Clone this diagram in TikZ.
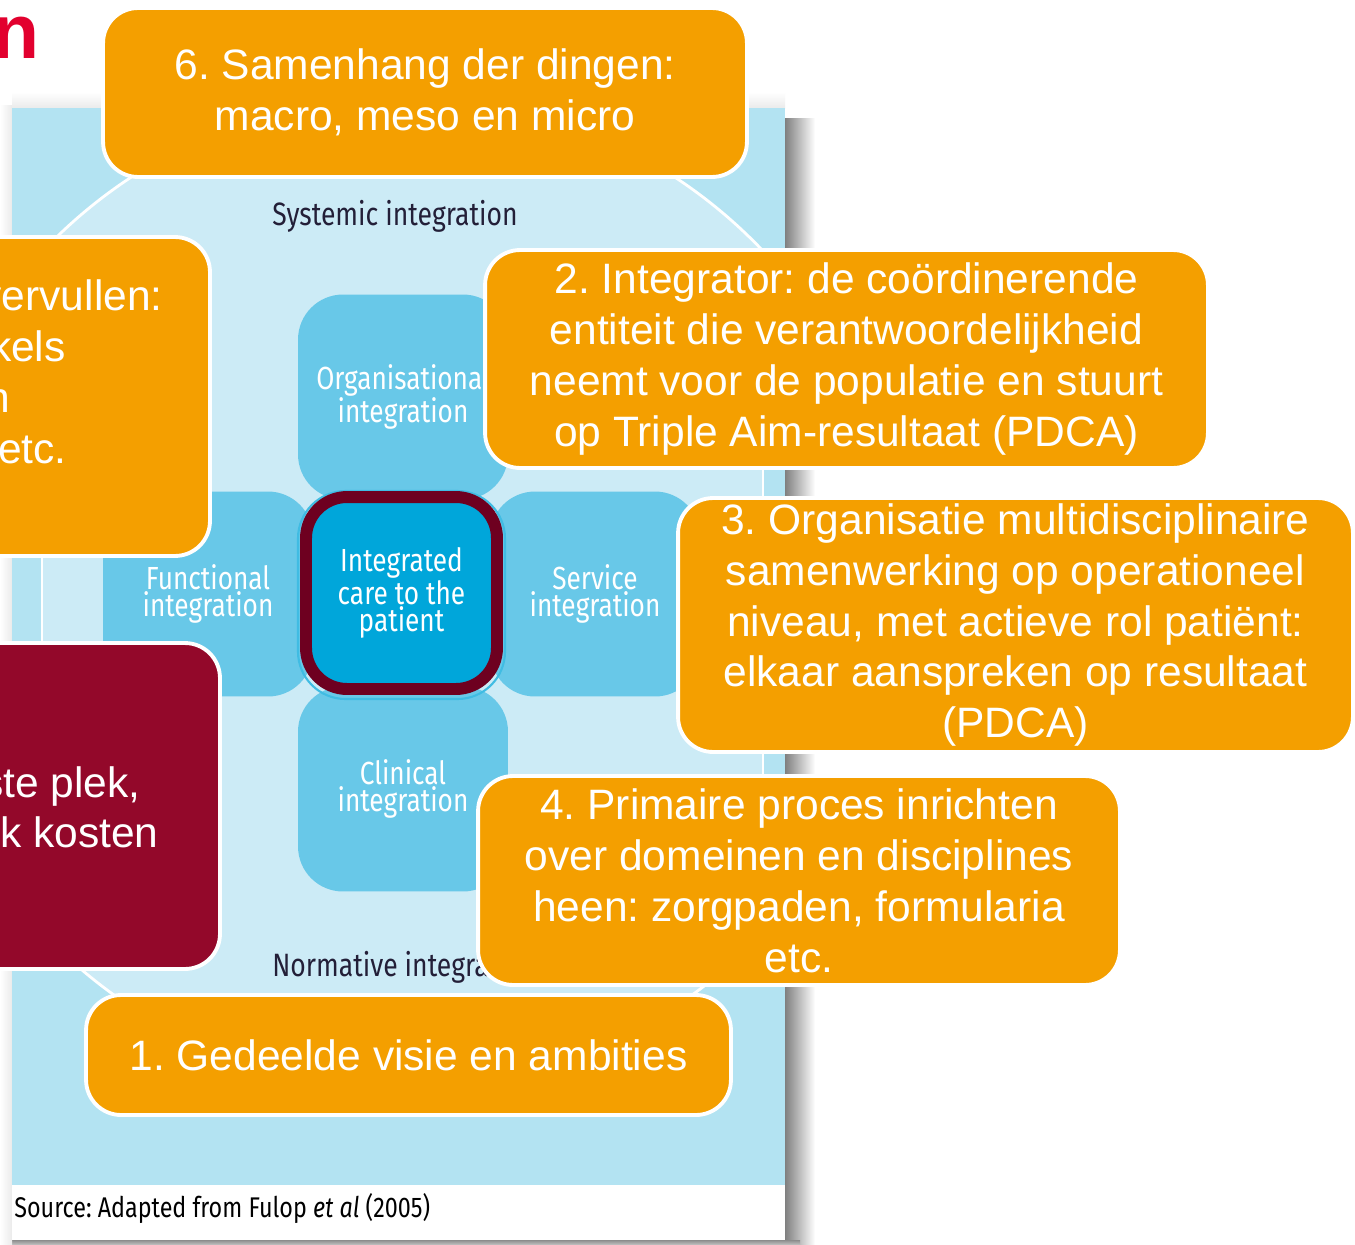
\documentclass[tikz,border=0pt]{standalone}
\usepackage{fontspec}
\setmainfont{Liberation Sans}
\newfontfamily\labelfont[FakeStretch=0.82]{Fira Sans}
\usetikzlibrary{positioning}

\definecolor{boxorange}{RGB}{244,159,0}
\definecolor{boxred}{RGB}{147,8,42}
\definecolor{titlered}{RGB}{226,0,46}
\definecolor{panelblue}{RGB}{179,227,242}
\definecolor{shapeblue}{RGB}{204,235,246}
\definecolor{blockblue}{RGB}{104,200,232}
\definecolor{careblue}{RGB}{0,166,218}
\definecolor{careborder}{RGB}{110,0,32}
\definecolor{labelink}{RGB}{35,31,56}

\tikzset{
  note/.style={draw=white, line width=2.2pt, rounded corners=0.7cm, text=white,
    align=center, inner sep=0pt, font=\fontsize{24.2}{29}\selectfont},
  notetext/.style={text=white, inner sep=0pt, font=\fontsize{24.2}{29}\selectfont},
  block/.style={fill=blockblue, rounded corners=0.9cm, text=white, align=center,
    font=\labelfont\fontsize{18.2}{15.4}\selectfont},
  textlabel/.style={text=labelink, inner sep=0pt, font=\labelfont\fontsize{18.4}{15.4}\selectfont},
}

\begin{document}
\frenchspacing
\begin{tikzpicture}[x=0.02cm, y=-0.02cm]
  \fill[white] (0,0) rectangle (1355,1244);
  \useasboundingbox (0,0) rectangle (1355,1244);

  % frame with its shadow
  \shade[left color=black!50, right color=white] (785,118) rectangle (815,1244);
  \shade[top color=black!45, bottom color=white] (12,1240) rectangle (800,1250);
  \shade[left color=white, right color=black!8] (0,105) rectangle (12,1244);
  \shade[top color=white, bottom color=black!8] (12,92) rectangle (785,108);
  \fill[panelblue] (12,108) rectangle (785,1185);
  \fill[white] (12,1185) rectangle (785,1240);

  % round field cut off at both sides
  \begin{scope}
    \clip (403,592) circle[radius=9.92cm];
    \fill[shapeblue] (42,108) rectangle (763,1120);
    \draw[white, line width=1.6pt] (42,108) -- (42,1120) (763,108) -- (763,1120);
  \end{scope}
  \begin{scope}
    \clip (42,108) rectangle (763,1120);
    \draw[white, line width=1.6pt] (403,592) circle[radius=9.92cm];
  \end{scope}

  \node[textlabel] (systemic) at (395,216) {Systemic integration};
  \node[textlabel, anchor=west] (normative) at (272,967) {Normative integration};

  \begin{scope}[every node/.style={block, minimum width=4.2cm, minimum height=4.1cm}]
    \node (organisational) at (403,397) {Organisational\\integration};
    \node (functional) at (208,594) {Functional\\integration};
    \node (service) at (595,594) {Service\\integration};
    \node (clinical) at (403,789) {Clinical\\integration};
  \end{scope}
  \draw[careblue!75, line width=1.2pt, rounded corners=0.95cm] (298,491) rectangle (505,699);
  \node[block, fill=careblue, draw=careborder, line width=6.8pt, rounded corners=0.82cm,
    minimum width=3.82cm, minimum height=3.84cm] (care) at (401.5,593)
    {Integrated\\care to the\\patient};

  % notes on top
  \begin{scope}[every node/.style={note, fill=boxorange}]
    \node[minimum width=12.88cm, minimum height=3.38cm] (samenhang) at (425,92.5)
      {6. Samenhang der dingen:\\macro, meso en micro};
    \node[minimum width=5.4cm, minimum height=6.38cm] (rollen) at (75,396.5) {};
    \node[minimum width=14.46cm, minimum height=4.36cm] (integrator) at (846.5,359)
      {2. Integrator: de coördinerende\\entiteit die verantwoordelijkheid\\neemt voor de populatie en stuurt\\op Triple Aim-resultaat (PDCA)};
    \node[minimum width=13.5cm, minimum height=5.08cm] (organisatie) at (1015.5,625)
      {3. Organisatie multidisciplinaire\\samenwerking op operationeel\\niveau, met actieve rol patiënt:\\elkaar aanspreken op resultaat\\(PDCA)};
    \node[minimum width=12.84cm, minimum height=4.18cm] (proces) at (799,880.5)
      {4. Primaire proces inrichten\\over domeinen en disciplines\\heen: zorgpaden, formularia\\etc.};
    \node[minimum width=12.9cm, minimum height=2.4cm] (visie) at (408.5,1055)
      {1. Gedeelde visie en ambities};
    \node[fill=boxred, minimum width=5.6cm, minimum height=6.52cm] (waarde) at (80,806) {};
  \end{scope}

  \begin{scope}[every node/.style={notetext, anchor=base east}]
    \node (rollen1) at (163,310) {vervullen:};
    \node (rollen2) at (66,361) {kels};
    \node (rollen3) at (10,412) {n};
    \node (rollen4) at (67,463) {etc.};
    \node (waarde1) at (141,797) {ste plek,};
    \node (waarde2) at (159,847) {k kosten};
  \end{scope}

  \node[text=titlered, anchor=base east, inner sep=0pt,
    font=\bfseries\fontsize{43.8}{50}\selectfont] (title) at (40,58) {n};
  \node[anchor=west, inner sep=0pt, font=\labelfont\fontsize{16.2}{18}\selectfont] (source)
    at (14,1208) {Source: Adapted from Fulop \textit{et al} (2005)};
\end{tikzpicture}
\end{document}
